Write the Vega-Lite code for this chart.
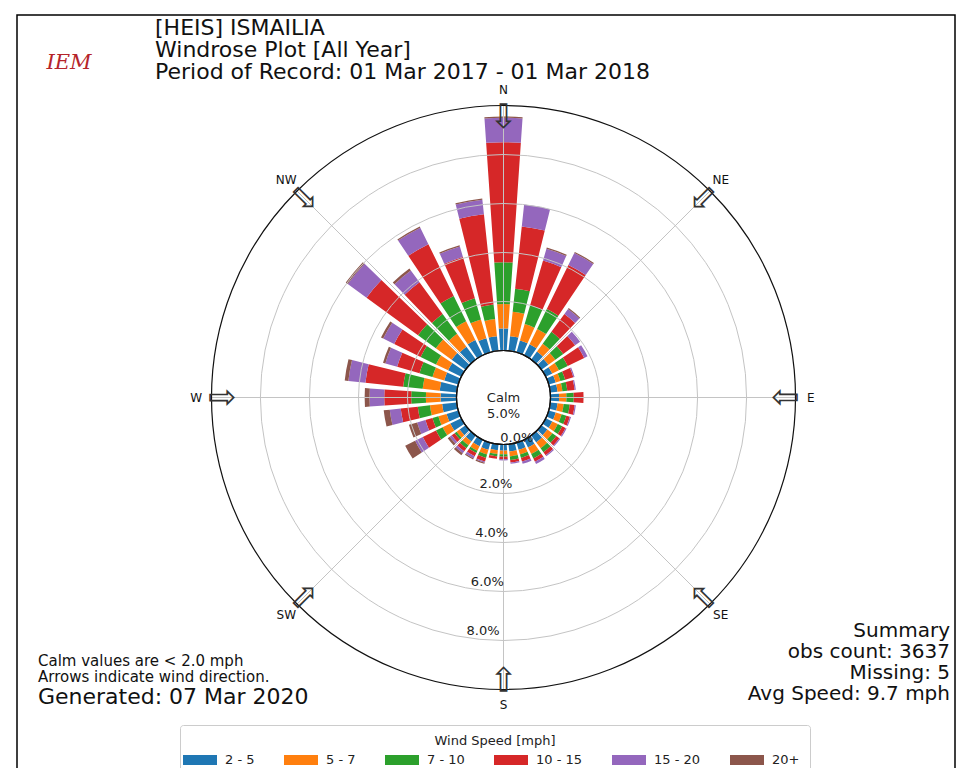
{
  "$schema": "https://vega.github.io/schema/vega-lite/v6.json",
  "width": 923,
  "height": 741,
  "autosize": "none",
  "padding": {"left": 42, "top": 27, "right": 1, "bottom": 0},
  "background": "white",
  "config": {"view": {"stroke": null}, "font": "DejaVu Sans"},
  "datasets": {
    "wind": [
      {"dir": 0, "2 - 5": 0.9, "5 - 7": 1.0, "7 - 10": 1.7, "10 - 15": 4.9, "15 - 20": 1.0, "20+": 0.05},
      {"dir": 10, "2 - 5": 0.6, "5 - 7": 1.0, "7 - 10": 0.95, "10 - 15": 2.55, "15 - 20": 0.9, "20+": 0.0},
      {"dir": 20, "2 - 5": 0.5, "5 - 7": 0.7, "7 - 10": 0.8, "10 - 15": 1.9, "15 - 20": 0.5, "20+": 0.05},
      {"dir": 30, "2 - 5": 0.5, "5 - 7": 0.7, "7 - 10": 0.9, "10 - 15": 2.0, "15 - 20": 0.55, "20+": 0.05},
      {"dir": 40, "2 - 5": 0.4, "5 - 7": 0.4, "7 - 10": 0.6, "10 - 15": 0.9, "15 - 20": 0.25, "20+": 0.05},
      {"dir": 50, "2 - 5": 0.35, "5 - 7": 0.35, "7 - 10": 0.4, "10 - 15": 0.6, "15 - 20": 0.25, "20+": 0.0},
      {"dir": 60, "2 - 5": 0.3, "5 - 7": 0.3, "7 - 10": 0.4, "10 - 15": 0.75, "15 - 20": 0.15, "20+": 0.0},
      {"dir": 70, "2 - 5": 0.3, "5 - 7": 0.2, "7 - 10": 0.2, "10 - 15": 0.35, "15 - 20": 0.05, "20+": 0.0},
      {"dir": 80, "2 - 5": 0.3, "5 - 7": 0.2, "7 - 10": 0.2, "10 - 15": 0.3, "15 - 20": 0.05, "20+": 0.0},
      {"dir": 90, "2 - 5": 0.35, "5 - 7": 0.3, "7 - 10": 0.3, "10 - 15": 0.4, "15 - 20": 0.0, "20+": 0.0},
      {"dir": 100, "2 - 5": 0.3, "5 - 7": 0.25, "7 - 10": 0.25, "10 - 15": 0.2, "15 - 20": 0.05, "20+": 0.0},
      {"dir": 110, "2 - 5": 0.3, "5 - 7": 0.25, "7 - 10": 0.2, "10 - 15": 0.15, "15 - 20": 0.05, "20+": 0.0},
      {"dir": 120, "2 - 5": 0.3, "5 - 7": 0.25, "7 - 10": 0.2, "10 - 15": 0.15, "15 - 20": 0.05, "20+": 0.0},
      {"dir": 130, "2 - 5": 0.3, "5 - 7": 0.25, "7 - 10": 0.2, "10 - 15": 0.15, "15 - 20": 0.05, "20+": 0.0},
      {"dir": 140, "2 - 5": 0.35, "5 - 7": 0.3, "7 - 10": 0.2, "10 - 15": 0.15, "15 - 20": 0.05, "20+": 0.0},
      {"dir": 150, "2 - 5": 0.35, "5 - 7": 0.3, "7 - 10": 0.2, "10 - 15": 0.15, "15 - 20": 0.1, "20+": 0.0},
      {"dir": 160, "2 - 5": 0.3, "5 - 7": 0.2, "7 - 10": 0.15, "10 - 15": 0.15, "15 - 20": 0.1, "20+": 0.0},
      {"dir": 170, "2 - 5": 0.3, "5 - 7": 0.2, "7 - 10": 0.15, "10 - 15": 0.1, "15 - 20": 0.05, "20+": 0.0},
      {"dir": 180, "2 - 5": 0.25, "5 - 7": 0.15, "7 - 10": 0.1, "10 - 15": 0.1, "15 - 20": 0.05, "20+": 0.0},
      {"dir": 190, "2 - 5": 0.25, "5 - 7": 0.15, "7 - 10": 0.1, "10 - 15": 0.1, "15 - 20": 0.0, "20+": 0.0},
      {"dir": 200, "2 - 5": 0.3, "5 - 7": 0.2, "7 - 10": 0.15, "10 - 15": 0.15, "15 - 20": 0.05, "20+": 0.05},
      {"dir": 210, "2 - 5": 0.3, "5 - 7": 0.2, "7 - 10": 0.1, "10 - 15": 0.15, "15 - 20": 0.1, "20+": 0.05},
      {"dir": 220, "2 - 5": 0.3, "5 - 7": 0.2, "7 - 10": 0.15, "10 - 15": 0.15, "15 - 20": 0.1, "20+": 0.1},
      {"dir": 230, "2 - 5": 0.3, "5 - 7": 0.15, "7 - 10": 0.1, "10 - 15": 0.15, "15 - 20": 0.1, "20+": 0.1},
      {"dir": 240, "2 - 5": 0.5, "5 - 7": 0.35, "7 - 10": 0.3, "10 - 15": 0.6, "15 - 20": 0.35, "20+": 0.45},
      {"dir": 250, "2 - 5": 0.5, "5 - 7": 0.35, "7 - 10": 0.25, "10 - 15": 0.3, "15 - 20": 0.35, "20+": 0.35},
      {"dir": 260, "2 - 5": 0.6, "5 - 7": 0.5, "7 - 10": 0.5, "10 - 15": 0.7, "15 - 20": 0.45, "20+": 0.25},
      {"dir": 270, "2 - 5": 0.65, "5 - 7": 0.6, "7 - 10": 0.6, "10 - 15": 1.1, "15 - 20": 0.6, "20+": 0.2},
      {"dir": 280, "2 - 5": 0.7, "5 - 7": 0.7, "7 - 10": 0.8, "10 - 15": 1.55, "15 - 20": 0.7, "20+": 0.15},
      {"dir": 290, "2 - 5": 0.6, "5 - 7": 0.5, "7 - 10": 0.55, "10 - 15": 0.95, "15 - 20": 0.5, "20+": 0.1},
      {"dir": 300, "2 - 5": 0.6, "5 - 7": 0.55, "7 - 10": 0.7, "10 - 15": 1.2, "15 - 20": 0.5, "20+": 0.1},
      {"dir": 310, "2 - 5": 0.7, "5 - 7": 0.8, "7 - 10": 0.9, "10 - 15": 2.6, "15 - 20": 0.95, "20+": 0.1},
      {"dir": 320, "2 - 5": 0.65, "5 - 7": 0.65, "7 - 10": 1.0, "10 - 15": 1.6, "15 - 20": 0.6, "20+": 0.1},
      {"dir": 330, "2 - 5": 0.7, "5 - 7": 0.85, "7 - 10": 1.15, "10 - 15": 2.35, "15 - 20": 0.75, "20+": 0.05},
      {"dir": 340, "2 - 5": 0.6, "5 - 7": 0.8, "7 - 10": 0.9, "10 - 15": 1.75, "15 - 20": 0.45, "20+": 0.05},
      {"dir": 350, "2 - 5": 0.6, "5 - 7": 0.7, "7 - 10": 0.6, "10 - 15": 3.7, "15 - 20": 0.6, "20+": 0.05}
    ],
    "rings": [{"ring": 2}, {"ring": 4}, {"ring": 6}, {"ring": 8}],
    "ringlabels": [{"ring": 2, "lab": "2.0%"}, {"ring": 4, "lab": "4.0%"}, {"ring": 6, "lab": "6.0%"}, {"ring": 8, "lab": "8.0%"}],
    "compass": [
      {"dir": 0, "lab": "N"}, {"dir": 45, "lab": "NE"}, {"dir": 90, "lab": "E"}, {"dir": 135, "lab": "SE"},
      {"dir": 180, "lab": "S"}, {"dir": 225, "lab": "SW"}, {"dir": 270, "lab": "W"}, {"dir": 315, "lab": "NW"}
    ],
    "one": [{}]
  },
  "layer": [
    {
      "data": {"name": "wind"},
      "transform": [
        {"fold": ["2 - 5", "5 - 7", "7 - 10", "10 - 15", "15 - 20", "20+"], "as": ["speed", "pct"]},
        {"calculate": "indexof(['2 - 5','5 - 7','7 - 10','10 - 15','15 - 20','20+'], datum.speed)", "as": "k"},
        {"window": [{"op": "sum", "field": "pct", "as": "top"}], "groupby": ["dir"], "sort": [{"field": "k"}], "frame": [null, 0]},
        {"calculate": "datum.top - datum.pct", "as": "base"},
        {"calculate": "datum.dir - 3.9", "as": "t0"},
        {"calculate": "datum.dir + 3.9", "as": "t1"},
        {"filter": "datum.pct > 0"}
      ],
      "mark": {"type": "arc"},
      "encoding": {
        "theta": {"field": "t0", "type": "quantitative", "scale": {"domain": [0, 360], "range": [0, 6.283185307179586]}},
        "theta2": {"field": "t1"},
        "radius": {"field": "top", "type": "quantitative", "stack": null, "scale": {"type": "linear", "domain": [0, 10], "range": [47, 292], "zero": false}},
        "radius2": {"field": "base"},
        "color": {
          "field": "speed", "type": "nominal",
          "scale": {"domain": ["2 - 5", "5 - 7", "7 - 10", "10 - 15", "15 - 20", "20+"], "range": ["#1f77b4", "#ff7f0e", "#2ca02c", "#d62728", "#9467bd", "#8c564b"]},
          "legend": {
            "orient": "none", "legendX": 138, "legendY": 698, "direction": "horizontal", "columns": 6,
            "title": "Wind Speed [mph]", "titleAnchor": "middle", "titleFontSize": 13, "titleFontWeight": "normal", "titleColor": "#222",
            "titlePadding": 2, "labelFontSize": 13, "labelColor": "#222", "labelOffset": 15,
            "symbolType": "M -1.7 -0.5 L 1.7 -0.5 L 1.7 0.5 L -1.7 0.5 Z", "symbolSize": 400, "symbolStrokeWidth": 0,
            "columnPadding": 29, "strokeColor": "#cccccc", "fillColor": "white", "padding": 10, "cornerRadius": 3
          }
        }
      }
    },
    {
      "data": {"name": "rings"},
      "mark": {"type": "arc", "filled": false, "stroke": "#c4c4c4", "strokeWidth": 1, "theta": 0, "theta2": 6.2832},
      "encoding": {"radius": {"field": "ring", "type": "quantitative", "stack": null, "scale": {"type": "linear", "domain": [0, 10], "range": [47, 292], "zero": false}}}
    },
    {
      "data": {"name": "compass"},
      "mark": {"type": "arc", "filled": false, "stroke": "#c4c4c4", "strokeWidth": 1},
      "encoding": {
        "theta": {"field": "dir", "type": "quantitative"},
        "theta2": {"field": "dir"},
        "radius": {"datum": 10, "type": "quantitative", "stack": null},
        "radius2": {"datum": 0}
      }
    },
    {
      "data": {"name": "one"},
      "mark": {"type": "arc", "fill": "white", "stroke": "#111", "strokeWidth": 1.2, "theta": 0, "theta2": 6.2832},
      "encoding": {"radius": {"datum": 0, "type": "quantitative", "stack": null}}
    },
    {
      "data": {"name": "one"},
      "mark": {"type": "arc", "filled": false, "stroke": "#111", "strokeWidth": 1.2, "theta": 0, "theta2": 6.2832},
      "encoding": {"radius": {"datum": 10, "type": "quantitative", "stack": null}}
    },
    {
      "data": {"name": "compass"},
      "mark": {"type": "text", "text": "⇩", "fontSize": 34, "fill": "#333", "align": "center", "baseline": "middle"},
      "encoding": {
        "theta": {"field": "dir", "type": "quantitative"},
        "radius": {"datum": 9.5, "type": "quantitative"},
        "angle": {"field": "dir", "type": "quantitative", "scale": null}
      }
    },
    {
      "data": {"name": "compass"},
      "mark": {"type": "text", "fontSize": 12, "fill": "#111", "align": "center", "baseline": "middle"},
      "encoding": {
        "theta": {"field": "dir", "type": "quantitative"},
        "radius": {"datum": 10.62, "type": "quantitative"},
        "text": {"field": "lab"}
      }
    },
    {
      "data": {"name": "ringlabels"},
      "mark": {"type": "text", "fontSize": 13, "fill": "#222", "align": "center", "baseline": "middle", "radiusOffset": -9},
      "encoding": {
        "theta": {"datum": 185, "type": "quantitative"},
        "radius": {"field": "ring", "type": "quantitative"},
        "text": {"field": "lab"}
      }
    },
    {
      "data": {"name": "one"},
      "mark": {"type": "text", "text": "0.0%", "fontSize": 13, "fill": "#222", "align": "center", "baseline": "middle", "radiusOffset": -4},
      "encoding": {
        "theta": {"datum": 162, "type": "quantitative"},
        "radius": {"datum": 0, "type": "quantitative"}
      }
    },
    {
      "data": {"name": "one"},
      "mark": {"type": "text", "text": ["Calm", "5.0%"], "lineHeight": 16, "fontSize": 13, "fill": "#222", "align": "center", "baseline": "middle", "x": {"expr": "width/2"}, "y": {"expr": "height/2"}}
    },
    {
      "data": {"name": "one"},
      "mark": {"type": "text", "text": ["[HEIS] ISMAILIA", "Windrose Plot [All Year]", "Period of Record: 01 Mar 2017 - 01 Mar 2018"], "lineHeight": 22, "fontSize": 22, "fill": "#111", "align": "left", "baseline": "alphabetic", "x": 113, "y": 8}
    },
    {
      "data": {"name": "one"},
      "mark": {"type": "text", "text": ["Summary", "obs count: 3637", "Missing: 5", "Avg Speed: 9.7 mph"], "lineHeight": 21, "fontSize": 20, "fill": "#111", "align": "right", "baseline": "alphabetic", "x": 908, "y": 610}
    },
    {
      "data": {"name": "one"},
      "mark": {"type": "text", "text": ["Calm values are < 2.0 mph", "Arrows indicate wind direction."], "lineHeight": 16, "fontSize": 15, "fill": "#111", "align": "left", "baseline": "alphabetic", "x": -4, "y": 639}
    },
    {
      "data": {"name": "one"},
      "mark": {"type": "text", "text": "Generated: 07 Mar 2020", "fontSize": 22, "fill": "#111", "align": "left", "baseline": "alphabetic", "x": -4, "y": 677}
    },
    {
      "data": {"name": "one"},
      "mark": {"type": "text", "text": "IEM", "fontSize": 21, "font": "DejaVu Serif", "fontStyle": "italic", "fill": "#b5242a", "align": "center", "baseline": "alphabetic", "x": 27, "y": 42}
    },
    {
      "data": {"name": "one"},
      "mark": {"type": "rect", "filled": false, "stroke": "#000", "strokeWidth": 1.5, "x": -25, "y": -12, "x2": 913, "y2": 760}
    }
  ]
}
